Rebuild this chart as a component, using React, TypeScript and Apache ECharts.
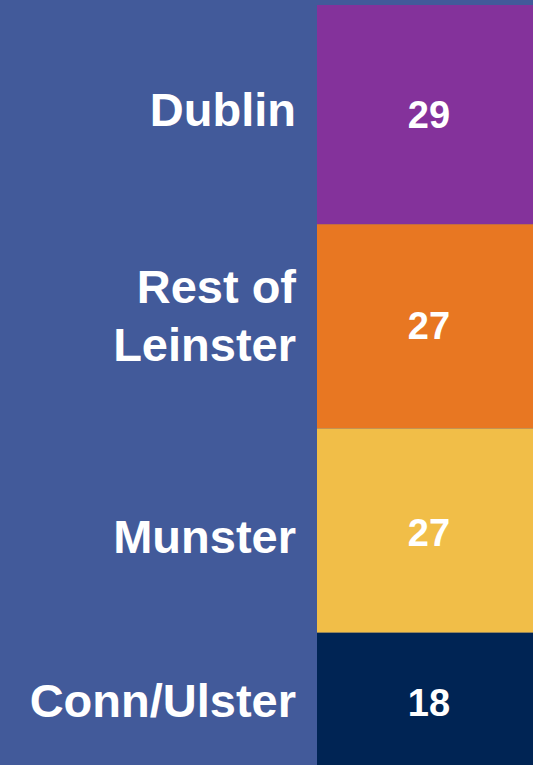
import React, { useEffect, useRef } from "react";
import * as echarts from "echarts";

const categories = ["Dublin", "Rest of\nLeinster", "Munster", "Conn/Ulster"];
const values = [29, 27, 27, 18];

const segmentColors = ["#84329B", "#E87722", "#F1BE48", "#002454"];
const nameOffsets = [-5, -11, 6, 0];
const valueOffsets = [0, 0, 2, 2];
const BG = "#425A9A";
const FONT = "'Liberation Sans', Arial, sans-serif";

export default function App() {
  const ref = useRef<HTMLDivElement>(null);
  useEffect(() => {
    document.body.style.margin = "0";
    const chart = echarts.init(ref.current!, null, { renderer: "svg" });
    const total = values.reduce((a, b) => a + b, 0);
    const series: any[] = [];
    values.forEach((v, i) => {
      series.push({
        type: "bar",
        name: categories[i],
        stack: "total",
        xAxisIndex: 0,
        yAxisIndex: 0,
        data: [v],
        barWidth: "100%",
        silent: true,
        clip: false,
        itemStyle: { color: segmentColors[i] },
        label: {
          show: true,
          position: "inside",
          color: "#fff",
          fontSize: 38,
          fontWeight: "bold",
          fontFamily: FONT,
          offset: [4, valueOffsets[i]],
        },
      });
      series.push({
        type: "bar",
        name: "label-" + i,
        stack: "names",
        xAxisIndex: 1,
        yAxisIndex: 1,
        data: [v],
        barWidth: "100%",
        silent: true,
        clip: false,
        itemStyle: { color: "rgba(0,0,0,0)" },
        label: {
          show: true,
          position: "insideRight",
          distance: 0,
          formatter: categories[i],
          color: "#fff",
          fontSize: 47,
          lineHeight: 58,
          fontWeight: "bold",
          fontFamily: FONT,
          align: "right",
          offset: [0, nameOffsets[i]],
        },
      });
    });
    chart.setOption({
      animation: false,
      backgroundColor: BG,
      grid: [
        { left: 317, width: 216, top: 5, height: 764, outerBoundsMode: "none", containLabel: false },
        { left: 0, width: 296, top: 5, height: 764, outerBoundsMode: "none", containLabel: false },
      ],
      xAxis: [
        { type: "category", gridIndex: 0, data: [""], show: false },
        { type: "category", gridIndex: 1, data: [""], show: false },
      ],
      yAxis: [
        { type: "value", gridIndex: 0, inverse: true, min: 0, max: total, show: false },
        { type: "value", gridIndex: 1, inverse: true, min: 0, max: total, show: false },
      ],
      series,
    });
    return () => chart.dispose();
  }, []);
  return (
    <div
      ref={ref}
      style={{ position: "fixed", left: 0, top: 0, width: 533, height: 765 }}
    />
  );
}
